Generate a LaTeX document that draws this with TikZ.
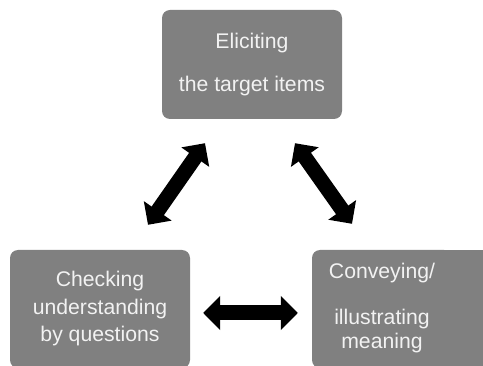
\documentclass[tikz,border=0pt]{standalone}
\usepackage{fontspec}
\setmainfont{Liberation Sans}
\usepackage{tikz}
\usetikzlibrary{arrows.meta, positioning, calc, backgrounds}
\definecolor{stagegray}{HTML}{808080}
\definecolor{stagetext}{HTML}{F2F2F2}

\tikzset{
  stage/.style={fill=stagegray, rounded corners=8pt, text=stagetext, align=center,
    font=\fontsize{21.2}{24}\selectfont, inner sep=0pt},
  twoway/.style={line width=15pt,
    {Triangle[length=17pt,width=33pt]}-{Triangle[length=17pt,width=33pt]}}
}

\begin{document}
\begin{tikzpicture}[x=1pt, y=-1pt]
  \useasboundingbox (0,0) rectangle (483,366);
  \clip (0,0) rectangle (483,366);
  % the three stages
  \node[stage, minimum width=180pt, minimum height=109pt] (elicit) at (252,64.5)
    {Eliciting\\[19pt]the target items};
  \node[stage, minimum width=180pt, minimum height=118pt] (check) at (100,309)
    {Checking\\[3.5pt]understanding\\[3.5pt]by questions};
  \node[stage, minimum width=140pt, minimum height=118pt, text depth=7pt] (convey) at (382,309)
    {Conveying/\\[22pt]illustrating\\meaning};
  % right box runs on past the edge
  \begin{scope}[on background layer]
    \fill[stagegray] (convey.north) rectangle (495,368);
  \end{scope}
  % double-headed arrows between the stages
  \draw[twoway] ([shift={(-47,24)}]elicit.south) -- ([shift={(48,-25)}]check.north);
  \draw[twoway] ([shift={(43,24)}]elicit.south) -- ([shift={(-30,-26)}]convey.north);
  \draw[twoway, shorten <=13pt, shorten >=14pt] ([yshift=-4pt]check.east) -- ([yshift=-4pt]convey.west);
\end{tikzpicture}
\end{document}
